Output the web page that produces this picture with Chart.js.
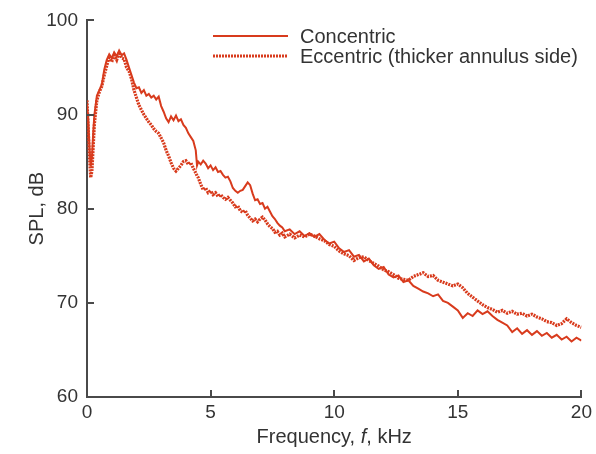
<!DOCTYPE html>
<html>
<head>
<meta charset="utf-8">
<script src="https://cdn.jsdelivr.net/npm/chart.js"></script>
<style>
  html, body { margin: 0; padding: 0; background: #fff; }
  #wrap { width: 596px; height: 454px; }
</style>
</head>
<body>
<div id="wrap"><canvas id="myChart" width="596" height="454"></canvas></div>
<script>
// data
const freqKHz = [
  0, 0.05, 0.1, 0.15, 0.2, 0.25, 0.3, 0.4, 0.5, 0.6, 0.7, 0.8, 0.9,
  1.0, 1.1, 1.2, 1.3, 1.4, 1.5, 1.6, 1.7, 1.8, 1.9,
  2.0, 2.1, 2.2, 2.3, 2.4, 2.5, 2.6, 2.7, 2.8, 2.9,
  3.0, 3.1, 3.2, 3.3, 3.4, 3.5, 3.6, 3.7, 3.8, 3.9,
  4.0, 4.1, 4.2, 4.3, 4.4, 4.45, 4.5, 4.6, 4.7, 4.8, 4.9,
  5.0, 5.1, 5.2, 5.3, 5.4, 5.5, 5.6, 5.7, 5.8, 5.9,
  6.0, 6.1, 6.2, 6.3, 6.4, 6.5, 6.6, 6.7, 6.8, 6.9,
  7.0, 7.1, 7.2, 7.3, 7.4, 7.5, 7.6, 7.7, 7.8, 7.9,
  8.0, 8.2, 8.4, 8.6, 8.8, 9.0, 9.2, 9.4, 9.6, 9.8,
  10.0, 10.2, 10.4, 10.6, 10.8, 11.0, 11.2, 11.4, 11.6, 11.8,
  12.0, 12.2, 12.4, 12.6, 12.8, 13.0, 13.2, 13.4, 13.6, 13.8,
  14.0, 14.2, 14.4, 14.6, 14.8, 15.0, 15.2, 15.4, 15.6, 15.8,
  16.0, 16.2, 16.4, 16.6, 16.8, 17.0, 17.2, 17.4, 17.6, 17.8,
  18.0, 18.2, 18.4, 18.6, 18.8, 19.0, 19.2, 19.4, 19.6, 19.8, 20.0
];

const splConcentric = [
  91.0, 89.5, 86.5, 84.5, 85.5, 88.0, 90.0, 92.0, 92.6, 93.2, 94.8, 95.8, 96.4,
  96.0, 96.6, 96.2, 96.8, 96.3, 96.5, 95.8, 95.0, 94.2, 93.4,
  92.8, 92.9, 92.3, 92.6, 92.0, 92.2, 91.8, 92.0, 91.6, 91.9,
  90.9, 90.3, 89.6, 89.2, 89.8, 89.4, 89.9, 89.3, 89.5, 88.9,
  88.6, 88.0, 87.6, 87.2, 86.2, 84.6, 85.0, 84.7, 85.1, 84.8, 84.3,
  84.6, 84.1, 84.4, 83.9, 84.0, 83.6, 83.3, 83.4, 82.9, 82.2,
  81.9, 81.7, 81.9, 82.0, 82.4, 82.8, 82.5, 81.6, 80.9, 81.0,
  80.5, 80.6, 80.0, 80.2, 79.7, 79.2, 78.9, 78.5, 78.2, 78.0,
  77.6, 77.8, 77.3, 77.6, 77.1, 77.4, 77.0, 77.3, 76.7, 76.3,
  76.5, 75.8, 75.4, 75.6, 74.9, 75.1, 74.4, 74.7, 74.0, 73.6,
  73.8, 73.0, 72.7, 72.9, 72.2, 72.4, 71.8, 71.5, 71.2, 71.0,
  70.7, 70.9, 70.2, 70.0, 69.6, 69.2, 68.4, 68.9, 68.6, 69.2,
  68.8, 69.1, 68.6, 68.2, 67.9, 67.6, 66.9, 67.3, 66.7, 67.1,
  66.6, 67.0, 66.5, 66.8, 66.3, 66.6, 66.1, 66.4, 65.9, 66.3, 66.0
];

const splEccentric = [
  91.5, 88.5, 85.5, 83.3, 84.0, 86.5, 89.0, 91.5, 92.4, 93.0, 94.2, 95.2, 96.2,
  95.6, 96.3, 95.8, 96.6, 96.0, 95.9, 95.0, 94.6, 93.8, 92.6,
  91.8, 91.0, 90.5, 90.0, 89.6, 89.2, 88.9, 88.5, 88.2, 88.0,
  87.5, 87.0, 86.2, 85.6, 84.9, 84.3, 84.0, 84.3, 84.6, 85.0,
  85.1, 84.7, 84.9, 84.3, 83.8, 83.5, 83.3, 82.6, 82.0, 82.2, 81.7,
  81.9, 81.5, 81.7, 81.3, 81.5, 81.2, 81.0, 81.2, 80.9, 80.6,
  80.2, 80.3, 79.8, 79.6, 79.8, 79.3, 79.0, 78.7, 78.9, 78.6,
  78.9, 79.1, 78.8, 78.4, 78.1, 77.9, 77.5, 77.6, 77.2, 77.4,
  77.0, 77.3, 76.9, 77.2, 77.0, 77.3, 77.1, 76.8, 76.6, 76.2,
  76.0, 75.5, 75.2, 75.0, 74.5, 74.8, 74.9, 74.5, 74.2, 73.9,
  73.5, 73.3, 73.0, 72.6, 72.5, 72.4, 72.8, 73.0, 73.2, 72.8,
  72.9, 72.4, 72.2, 72.0, 71.8, 72.0, 71.6, 71.0, 70.6, 70.2,
  69.8, 69.5, 69.3, 69.0, 69.2, 68.9, 69.1, 68.8, 68.9, 68.6,
  68.8, 68.5, 68.3, 68.0, 67.9, 67.6, 67.8, 68.3, 67.9, 67.6, 67.4
];

const seriesNames = ['Concentric', 'Eccentric (thicker annulus side)'];
const xTicks = [0, 5, 10, 15, 20];
const yTicks = [60, 70, 80, 90, 100];

const RED = '#d83b1d';
const AXIS = '#4a4a4a';
const TEXT = '#333';
const FONT = '"Liberation Sans", Arial, Helvetica, sans-serif';

const toPts = (xs, ys) => xs.map((x, i) => ({ x: x, y: ys[i] }));

// inward tick marks like the original
const inwardTicks = {
  id: 'inwardTicks',
  afterDraw(chart) {
    const { ctx, chartArea, scales } = chart;
    ctx.save();
    ctx.strokeStyle = AXIS;
    ctx.lineWidth = 2;
    xTicks.forEach(v => {
      const px = Math.round(scales.x.getPixelForValue(v));
      ctx.beginPath();
      ctx.moveTo(px, chartArea.bottom);
      ctx.lineTo(px, chartArea.bottom - 7);
      ctx.stroke();
    });
    yTicks.forEach(v => {
      const py = Math.round(scales.y.getPixelForValue(v));
      ctx.beginPath();
      ctx.moveTo(chartArea.left, py);
      ctx.lineTo(chartArea.left + 7, py);
      ctx.stroke();
    });
    ctx.restore();
  }
};

// axis titles (italic f) and legend inside plot
const labelsAndLegend = {
  id: 'labelsAndLegend',
  afterDraw(chart) {
    const { ctx, chartArea } = chart;
    ctx.save();
    ctx.fillStyle = TEXT;
    ctx.textBaseline = 'middle';

    // y title
    ctx.save();
    ctx.translate(37, (chartArea.top + chartArea.bottom) / 2);
    ctx.rotate(-Math.PI / 2);
    ctx.textAlign = 'center';
    ctx.font = '20px ' + FONT;
    ctx.fillText('SPL, dB', 0, 0);
    ctx.restore();

    // x title
    const parts = [['Frequency, ', 'normal'], ['f', 'italic'], [', kHz', 'normal']];
    let total = 0;
    parts.forEach(p => { ctx.font = p[1] + ' 20px ' + FONT; total += ctx.measureText(p[0]).width; });
    let x = (chartArea.left + chartArea.right) / 2 - total / 2;
    ctx.textAlign = 'left';
    parts.forEach(p => {
      ctx.font = p[1] + ' 20px ' + FONT;
      ctx.fillText(p[0], x, 437);
      x += ctx.measureText(p[0]).width;
    });

    // legend
    const rows = [36, 56];
    chart.data.datasets.forEach((ds, i) => {
      ctx.save();
      ctx.strokeStyle = ds.borderColor;
      ctx.lineWidth = ds.borderWidth;
      ctx.setLineDash(ds.borderDash || []);
      ctx.beginPath();
      ctx.moveTo(213, rows[i]);
      ctx.lineTo(288, rows[i]);
      ctx.stroke();
      ctx.restore();
      ctx.font = '20px ' + FONT;
      ctx.fillStyle = TEXT;
      ctx.fillText(ds.label, 300, rows[i] + 1);
    });
    ctx.restore();
  }
};

const data = {
  datasets: [
    {
      label: seriesNames[0],
      data: toPts(freqKHz, splConcentric),
      borderColor: RED,
      borderWidth: 2,
      pointRadius: 0,
      tension: 0
    },
    {
      label: seriesNames[1],
      data: toPts(freqKHz, splEccentric),
      borderColor: RED,
      borderWidth: 3.2,
      borderDash: [2, 1],
      pointRadius: 0,
      tension: 0
    }
  ]
};

const config = {
  type: 'line',
  data,
  plugins: [inwardTicks, labelsAndLegend],
  options: {
    responsive: false,
    animation: false,
    layout: { padding: { left: 0, right: 13, top: 16, bottom: 0 } },
    plugins: { legend: { display: false }, tooltip: { enabled: false } },
    scales: {
      x: {
        type: 'linear',
        min: 0, max: 20,
        afterBuildTicks: s => { s.ticks = xTicks.map(v => ({ value: v })); },
        afterFit: s => { s.height = 57; },
        grid: { display: false, drawTicks: false },
        border: { display: true, color: AXIS, width: 2 },
        ticks: { color: TEXT, font: { family: FONT, size: 19 }, padding: 4, maxRotation: 0 }
      },
      y: {
        min: 60, max: 100,
        afterBuildTicks: s => { s.ticks = yTicks.map(v => ({ value: v })); },
        afterFit: s => { s.width = 87; },
        grid: { display: false, drawTicks: false },
        border: { display: true, color: AXIS, width: 2 },
        ticks: { color: TEXT, font: { family: FONT, size: 19 }, padding: 9 }
      }
    }
  }
};

const myChart = new Chart(document.getElementById('myChart'), config);
</script>
</body>
</html>
